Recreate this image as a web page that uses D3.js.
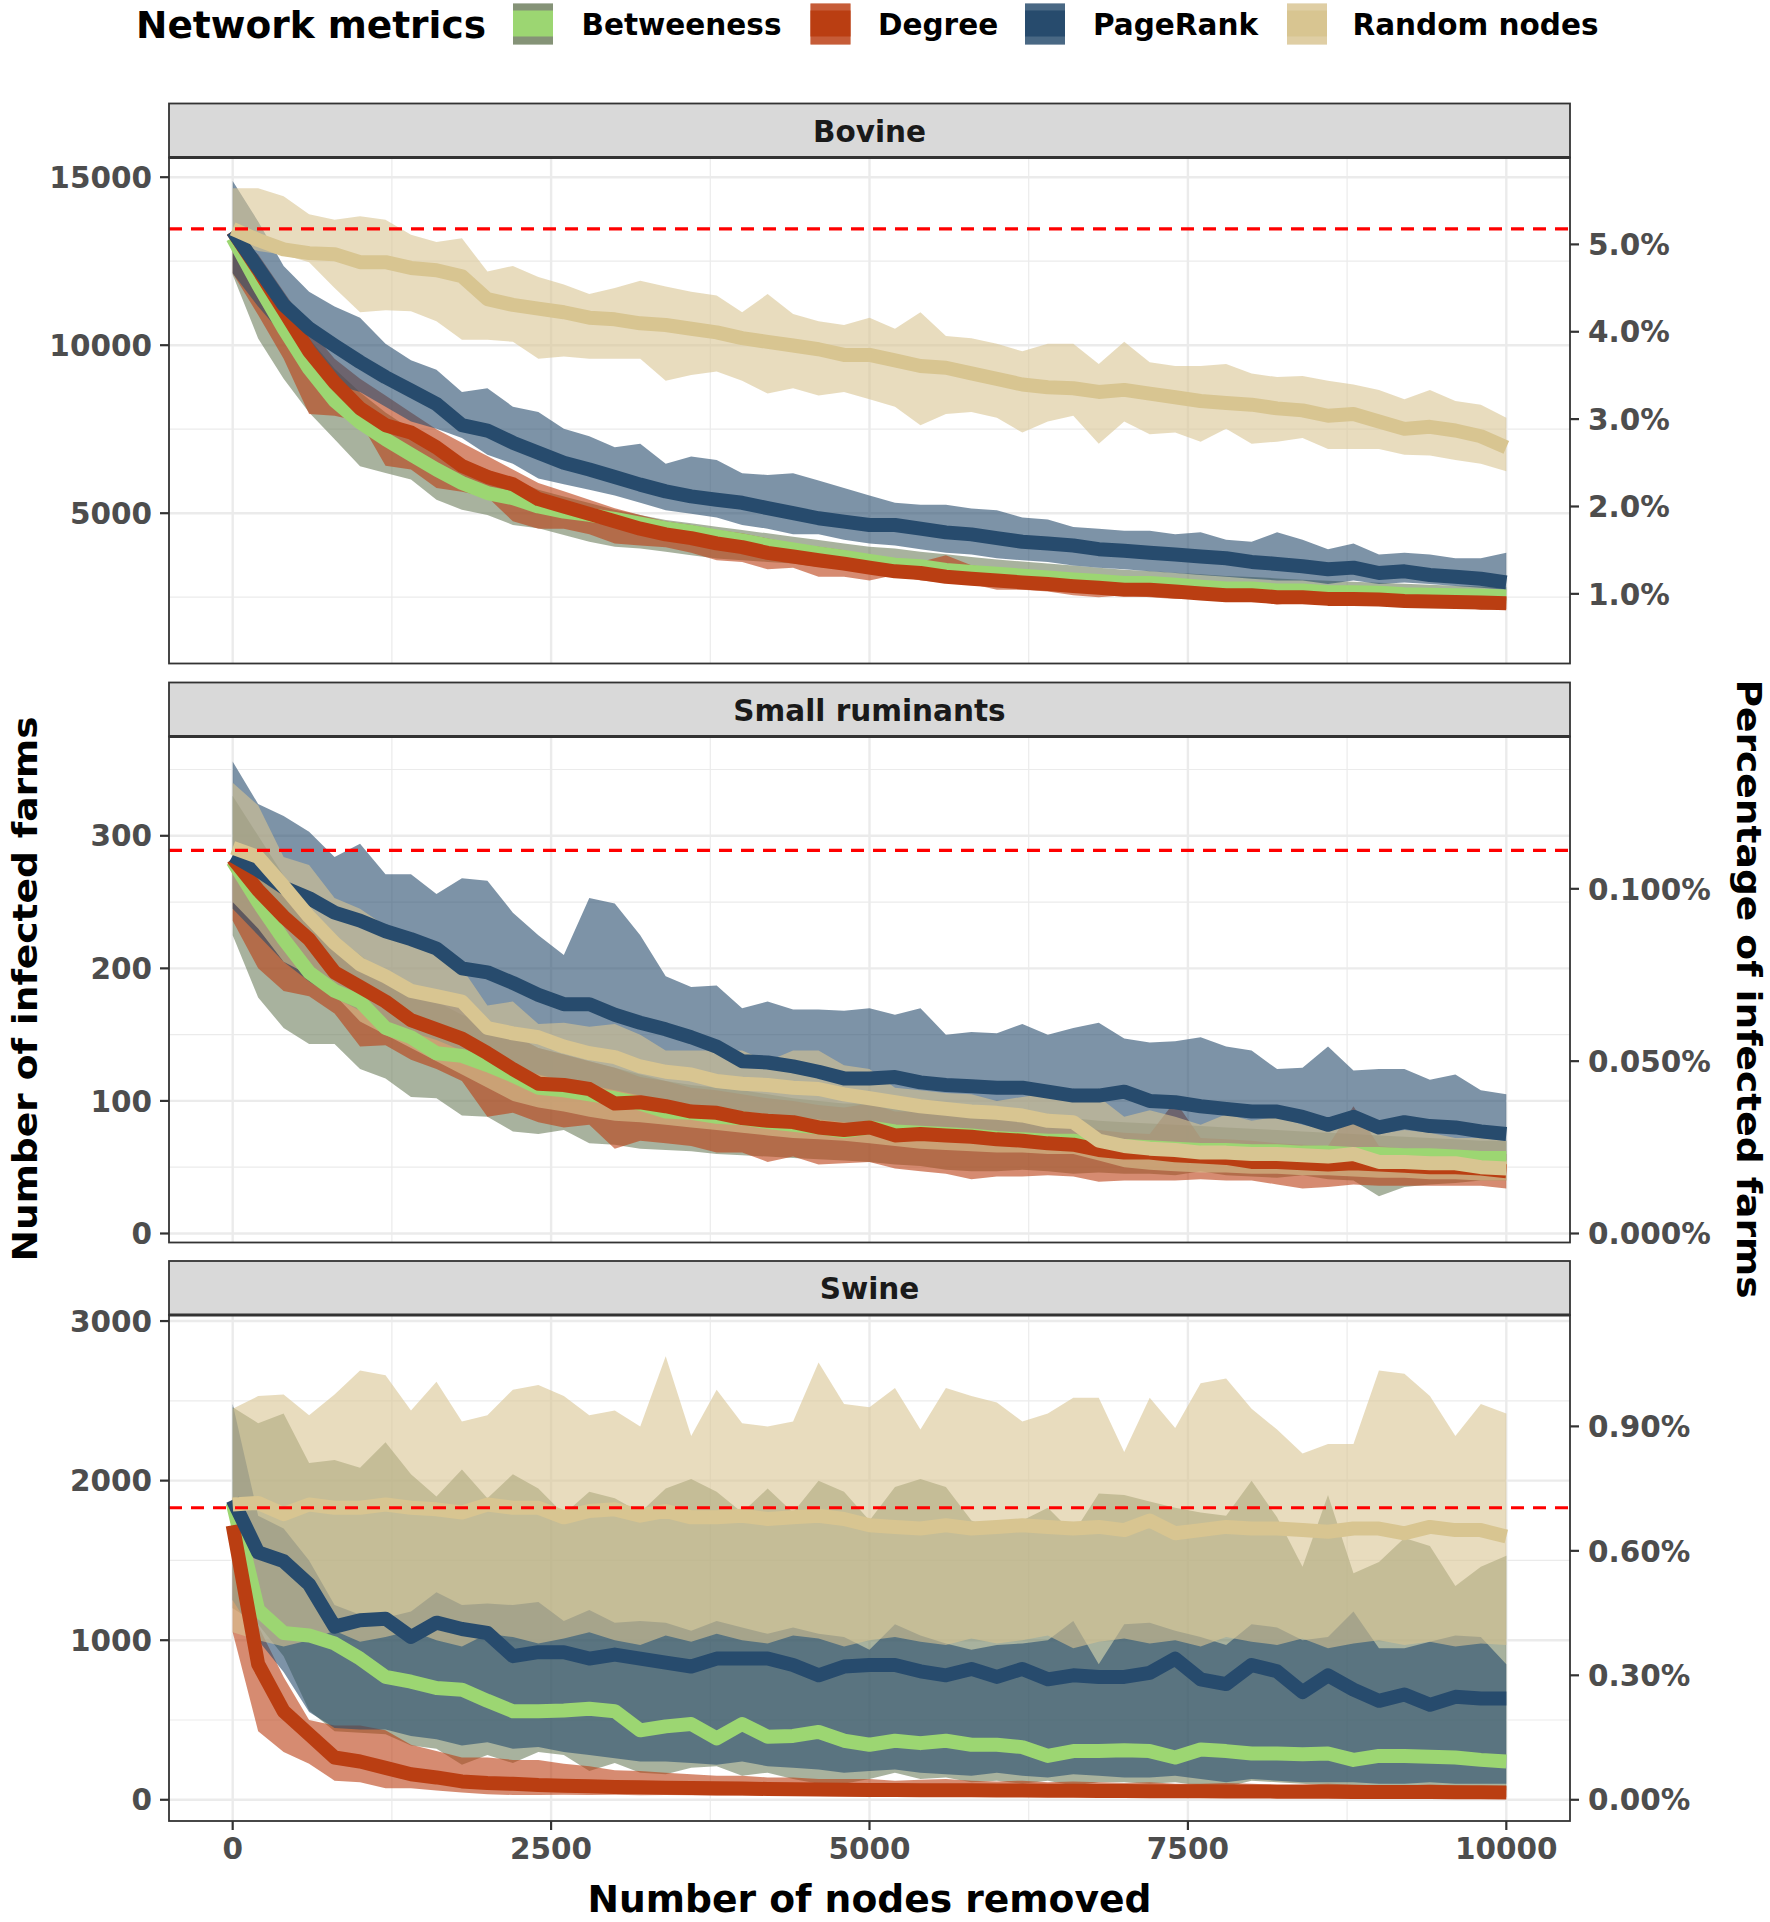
<!DOCTYPE html>
<html><head><meta charset="utf-8">
<script src="https://cdn.jsdelivr.net/npm/d3@7"></script>
<style>body{margin:0;background:#fff}svg{display:block}text{font-family:"DejaVu Sans",sans-serif;font-weight:bold}</style>
</head><body><svg id="c" width="1770" height="1922"></svg>
<script>
// ---------------- DATA ----------------
const nodesRemoved = [0,200,400,600,800,1000,1200,1400,1600,1800,2000,2200,2400,2600,2800,3000,3200,3400,3600,3800,4000,4200,4400,4600,4800,5000,5200,5400,5600,5800,6000,6200,6400,6600,6800,7000,7200,7400,7600,7800,8000,8200,8400,8600,8800,9000,9200,9400,9600,9800,10000];
const metrics = ["Betweeness","Degree","PageRank","Random nodes"];
const panelNames = ["Bovine","Small ruminants","Swine"];
const totalFarms = 260000;
const baselineInfected = [13460, 289, 1830];

// Bovine
const bovineBetweenessMean = [13200,11800,10500,9300,8350,7700,7200,6750,6300,5900, 5600,5450,5200,5050,4950,4830,4690,4550,4440,4310, 4190,4040,3920,3800,3700,3580,3470,3420,3310,3250, 3200,3140,3090,3030,2980,2920,2920,2870,2810,2760, 2760,2700,2700,2650,2650,2630,2590,2570,2560,2540, 2520];
const bovineBetweenessLow = [12100,10200,9000,8000,7200,6400,6200,6000,5400,5100, 4950,4650,4550,4350,4150,4000,3950,3850,3750,3650, 3600,3550,3500,3400,3350,3300,3250,3200,3150,3100, 3050,3000,2950,2900,2860,2820,2780,2740,2700,2670, 2640,2610,2580,2550,2520,2500,2480,2460,2440,2420, 2400];
const bovineBetweenessHigh = [13400,12400,11300,10200,9300,8600,8000,7500,7000,6600, 6300,6000,5700,5500,5300,5100,4950,4800,4700,4600, 4500,4400,4300,4200,4100,4000,3950,3850,3780,3700, 3620,3560,3500,3440,3380,3320,3280,3230,3180,3130, 3100,3060,3020,2990,2960,2930,2900,2870,2840,2820, 2800];
const bovineDegreeMean = [13400,12250,11040,9820,8890,8120,7620,7400,6960,6410, 6080,5860,5420,5200,4980,4760,4540,4370,4260,4100, 3990,3820,3710,3600,3500,3380,3270,3220,3110,3050, 3000,2940,2890,2830,2780,2720,2720,2670,2610,2560, 2560,2500,2500,2450,2450,2430,2390,2370,2360,2340, 2320];
const bovineDegreeLow = [12140,10900,9600,7950,7900,7730,6410,6300,5750,5640, 5480,4760,4540,4540,4370,4100,4040,3990,3820,3600, 3550,3330,3380,3110,3110,3000,3160,3000,2940,2890, 2720,2720,2670,2560,2500,2560,2500,2450,2450,2390, 2390,2280,2360,2340,2320,2320,2280,2250,2250,2120, 2140];
const bovineDegreeHigh = [13400,12700,11600,10500,9600,9000,8500,8000,7500,7100, 6700,6300,5900,5650,5400,5150,4950,4750,4650,4500, 4400,4250,4100,4000,3900,3750,3650,3550,3750,3450, 3350,3300,3200,3150,3050,3000,2980,2930,2880,2830, 2800,2750,2730,2700,2660,2620,2600,2570,2550,2520, 2500];
const bovinePageRankMean = [13400,12300,11200,10500,9990,9500,9050,8650,8250,7620, 7460,7100,6800,6500,6300,6080,5850,5650,5500,5400, 5310,5150,5000,4850,4750,4650,4650,4540,4430,4370, 4260,4150,4100,4040,3930,3880,3820,3770,3710,3660, 3550,3490,3420,3330,3380,3220,3270,3160,3110,3050, 2940];
const bovinePageRankLow = [12140,11150,10270,9380,8830,8610,8170,7730,7510,7240, 6740,6470,6030,5860,5700,5530,5310,5090,4980,4870, 4650,4540,4370,4370,4210,4100,4040,3930,3820,3770, 3660,3600,3550,3440,3380,3330,3270,3220,3160,3110, 3050,3000,3000,2890,3000,2890,2940,2890,2830,2780, 2720];
const bovinePageRankHigh = [14890,13680,12360,11590,11150,10820,10040,9550,9270,8610, 8720,8170,8010,7510,7290,6960,7070,6470,6690,6580, 6190,6140,6190,5970,5750,5530,5310,5250,5250,5140, 5090,4870,4810,4590,4540,4480,4480,4370,4430,4210, 4150,4430,4210,3930,4100,3770,3820,3770,3660,3660, 3820];
const bovineRandomMean = [13460,13130,12850,12740,12710,12470,12470,12300,12230,12050, 11370,11200,11090,10980,10820,10770,10650,10600,10490,10380, 10210,10100,9990,9880,9710,9710,9550,9380,9330,9160, 9000,8830,8750,8720,8610,8670,8560,8450,8340,8280, 8230,8120,8060,7900,7950,7730,7510,7570,7460,7290, 6960];
const bovineRandomLow = [13100,12800,12690,12470,11700,10980,11040,11010,10710,10160, 10160,10100,9600,9660,9600,9600,9600,8940,9110,9220, 8940,8560,8720,8500,8610,8390,8170,7620,7950,8010, 7840,7400,7730,7900,7070,7730,7350,7400,7130,7510, 7070,7130,7240,6910,6910,6910,6740,6720,6580,6470, 6250];
const bovineRandomHigh = [14670,14670,14430,13900,13730,13840,13730,13290,13070,13180, 12190,12360,12030,11810,11520,11700,11920,11750,11590,11480, 10980,11520,10930,10710,10600,10820,10490,10980,10270,10210, 10040,9820,10040,10040,9440,10100,9490,9380,9380,9440, 9160,9050,9080,8940,8830,8670,8390,8670,8340,8230, 7840];

// Small ruminants
const smallBetweenessMean = [281,250,222,197,183,175,155,148,136,134, 127,119,110,108,105,102,98,92,91,88, 87,84,82,80,77,80,77,76,75,74, 72,71,70,70,67,66,65,64,63,63, 62,62,61,61,60,60,59,59,58,57, 57];
const smallBetweenessLow = [225,178,155,143,143,124,117,103,102,89, 88,77,75,78,68,67,64,63,62,60, 59,58,57,56,55,54,52,51,48,47, 47,48,47,45,46,45,45,44,47,44, 43,42,44,41,40,28,35,37,38,40, 40];
const smallBetweenessHigh = [330,300,270,245,225,210,195,185,175,165, 158,150,140,135,130,125,120,115,112,110, 108,105,102,100,98,98,96,95,93,92, 90,89,88,87,85,84,83,82,81,80, 79,78,77,76,75,74,73,72,71,70, 70];
const smallDegreeMean = [283,259,239,222,197,186,175,161,154,147, 136,124,113,112,109,98,99,96,92,91, 87,85,84,80,78,80,74,75,74,73, 71,70,68,67,63,61,61,59,58,57, 54,54,53,52,53,52,51,50,50,49, 47];
const smallDegreeLow = [236,200,183,179,166,141,142,131,124,115, 88,91,84,80,82,64,70,68,66,61, 61,54,58,52,53,54,49,47,45,41, 43,43,44,43,39,40,40,40,41,40, 40,37,34,35,37,36,36,36,36,36, 34];
const smallDegreeHigh = [283,275,255,240,220,205,195,185,175,170, 160,150,140,135,130,125,118,115,110,108, 105,102,100,97,95,98,92,92,95,88, 86,85,84,82,78,76,75,100,72,71, 70,68,67,66,96,66,64,63,62,61, 60];
const smallPageRankMean = [285,274,261,253,242,236,228,222,215,200, 197,189,180,173,173,165,159,154,148,141, 130,129,126,122,117,117,118,114,112,111, 110,110,107,104,104,107,100,99,96,94, 92,92,88,82,88,80,84,81,80,77, 75];
const smallPageRankLow = [245,225,205,190,178,168,160,152,146,138, 132,126,120,115,112,108,104,100,97,95, 92,90,88,86,84,82,80,78,77,75, 74,73,72,70,69,68,67,66,65,64, 63,62,61,60,60,59,58,58,57,56, 55];
const smallPageRankHigh = [356,324,315,303,284,294,271,271,256,268, 266,242,225,210,253,249,225,194,186,187, 170,175,169,169,168,170,165,170,150,152, 151,158,150,155,159,147,144,145,148,141, 138,124,125,141,123,124,124,116,120,108, 105];
const smallRandomMean = [291,284,262,239,219,203,194,183,179,175, 155,151,148,141,136,133,126,122,120,115, 113,112,110,109,105,102,99,96,94,92, 91,89,85,84,70,66,64,63,61,61, 60,60,59,58,60,54,54,53,53,50, 49];
const smallRandomLow = [250,230,205,195,180,160,150,140,130,120, 110,100,95,92,88,85,84,82,80,78, 76,74,72,71,70,68,66,64,63,62, 61,61,60,60,55,50,48,47,46,46, 45,45,44,44,43,42,42,41,41,40, 40];
const smallRandomHigh = [340,323,284,278,253,245,232,222,210,200, 172,175,158,159,156,158,150,138,138,138, 138,130,138,138,127,124,110,108,106,105, 100,103,106,101,103,88,93,88,82,90, 85,88,82,78,88,75,78,76,72,72, 70];

// Swine
const swineBetweenessMean = [1860,1190,1045,1030,980,885,770,740,700,690, 620,555,555,560,570,555,435,460,475,385, 475,395,400,425,370,345,370,355,370,345, 345,330,275,305,305,310,305,265,315,305, 290,290,285,290,250,275,275,270,265,250, 240];
const swineBetweenessLow = [1200,1100,900,560,430,420,410,340,320,220, 280,230,300,280,180,230,170,160,200,210, 150,170,130,100,100,130,170,130,140,110, 120,100,120,90,110,110,100,110,90,80, 120,110,100,90,70,60,80,60,70,60, 60];
const swineBetweenessHigh = [2460,2360,2420,2110,2130,2080,2240,2040,1900,2070, 1890,2040,1950,1790,1930,1890,1800,1950,2010,1930, 1800,1950,1800,2000,1930,1750,1960,2010,1960,1750, 1690,1750,1830,1670,1920,1910,1870,1830,1800,1780, 2000,1770,1460,1910,1420,1490,1640,1590,1340,1460, 1530];
const swineDegreeMean = [1720,850,555,410,265,240,200,160,140,115, 105,100,92,88,85,80,78,76,74,72, 70,68,66,65,63,62,62,60,60,59, 58,58,57,56,55,55,54,53,53,52, 52,51,50,50,49,49,48,48,47,47, 46];
const swineDegreeLow = [1050,430,300,225,120,110,72,72,58,45, 35,30,30,32,30,32,28,30,28,25, 27,25,26,24,22,20,24,22,22,22, 22,20,21,20,20,20,20,19,19,19, 18,18,18,18,17,17,17,16,16,16, 16];
const swineDegreeHigh = [1720,1090,770,500,465,465,435,345,305,265, 265,250,250,225,210,185,180,170,160,150, 150,140,140,130,130,130,120,125,130,120, 115,120,110,115,110,105,110,100,100,105, 100,95,95,100,95,90,90,95,90,85, 85];
const swinePageRankMean = [1880,1550,1495,1350,1085,1125,1135,1020,1110,1070, 1045,900,925,925,885,910,885,860,835,885, 885,885,845,780,835,845,845,805,780,820, 770,820,755,780,770,770,795,885,755,725, 845,805,675,780,690,620,660,595,645,635, 635];
const swinePageRankLow = [1250,1000,800,550,450,440,440,400,380,340, 360,320,330,300,280,260,240,240,230,220, 240,210,200,190,170,180,190,170,160,150, 170,150,140,160,150,140,140,150,130,110, 130,120,110,110,110,100,100,110,100,100, 100];
const swinePageRankHigh = [2480,1780,1700,1500,1220,1160,1140,1180,1300,1220, 1230,1220,1240,1120,1190,1110,1120,1110,1060,1120, 1080,1040,1080,1040,1020,940,1100,1030,980,940, 970,980,1000,1120,850,1100,1110,1060,1020,970, 1100,1080,1000,1020,1180,950,950,990,1030,1020, 850];
const swineRandomMean = [1850,1860,1790,1850,1830,1830,1850,1830,1820,1800, 1850,1830,1830,1770,1810,1820,1780,1810,1770,1770, 1780,1760,1770,1780,1760,1720,1710,1700,1720,1700, 1710,1720,1710,1700,1710,1690,1750,1670,1690,1710, 1700,1700,1690,1680,1700,1700,1670,1710,1690,1690, 1650];
const swineRandomLow = [1050,1000,960,1000,1060,990,1020,1060,1000,960, 1040,1020,980,1010,1050,1000,970,1030,990,1040, 1000,980,1030,1010,960,1000,1020,990,970,1010, 980,1000,1030,950,990,1010,980,1000,960,1020, 990,970,1010,950,980,1000,970,990,960,980, 970];
const swineRandomHigh = [2450,2530,2540,2410,2540,2690,2660,2440,2620,2370, 2410,2570,2600,2530,2410,2440,2340,2780,2280,2570, 2360,2340,2370,2740,2480,2460,2580,2320,2580,2530, 2490,2370,2420,2520,2520,2180,2520,2330,2610,2640, 2450,2320,2170,2230,2230,2690,2670,2530,2280,2480, 2420];

// Axis ticks
const xTicks = [0,2500,5000,7500,10000];
const xMinor = [1250,3750,6250,8750];
const bovineTicks = [5000,10000,15000], bovineMinor = [2500,7500,12500], bovinePct = [1,2,3,4,5];
const smallTicks = [0,100,200,300], smallMinor = [50,150,250,350], smallPct = [0,0.05,0.1];
const swineTicks = [0,1000,2000,3000], swineMinor = [500,1500,2500], swinePct = [0,0.3,0.6,0.9];

// ---------------- STYLE ----------------
const lineColors = ["#9CD672","#BA3E12","#274B6D","#D8C591"];
const fillColors = ["#6E7F5D","#BA3E12","#274B6D","#D9C592"];
const fillOpacity = 0.6;

const panels = [
  {name:panelNames[0], domain:[527,15586], ticks:bovineTicks, minor:bovineMinor, pct:bovinePct, dec:1, base:baselineInfected[0],
   s:[[bovineBetweenessMean,bovineBetweenessLow,bovineBetweenessHigh],[bovineDegreeMean,bovineDegreeLow,bovineDegreeHigh],[bovinePageRankMean,bovinePageRankLow,bovinePageRankHigh],[bovineRandomMean,bovineRandomLow,bovineRandomHigh]]},
  {name:panelNames[1], domain:[-6.8,374.9], ticks:smallTicks, minor:smallMinor, pct:smallPct, dec:3, base:baselineInfected[1],
   s:[[smallBetweenessMean,smallBetweenessLow,smallBetweenessHigh],[smallDegreeMean,smallDegreeLow,smallDegreeHigh],[smallPageRankMean,smallPageRankLow,smallPageRankHigh],[smallRandomMean,smallRandomLow,smallRandomHigh]]},
  {name:panelNames[2], domain:[-133,3038], ticks:swineTicks, minor:swineMinor, pct:swinePct, dec:2, base:baselineInfected[2],
   s:[[swineBetweenessMean,swineBetweenessLow,swineBetweenessHigh],[swineDegreeMean,swineDegreeLow,swineDegreeHigh],[swinePageRankMean,swinePageRankLow,swinePageRankHigh],[swineRandomMean,swineRandomLow,swineRandomHigh]]}
];

const svg = d3.select("#c");
const plotL = 169, plotR = 1570;
const stripTops = [103.5, 682.5, 1261], stripH = 54, plotH = 506;
const x = d3.scaleLinear().domain([-500,10500]).range([plotL,plotR]);
const tickCol = "#4D4D4D", borderCol = "#333333", gridCol = "#EBEBEB";
const fs = 29.5;

let bad = [];
panels.forEach(p=>p.s.forEach((arr,i)=>arr.forEach((a,j)=>{ if(a.length!==nodesRemoved.length) bad.push(p.name+" "+metrics[i]+" "+j+" len "+a.length);})));
if(bad.length) svg.append("text").attr("x",200).attr("y",70).attr("fill","red").attr("font-size",14).text(bad.join(" | "));

panels.forEach((p,pi)=>{
  const top = stripTops[pi]+stripH, bot = top+plotH;
  const y = d3.scaleLinear().domain(p.domain).range([bot,top]);
  const g = svg.append("g");
  const cid = "clip"+pi;
  svg.append("clipPath").attr("id",cid).append("rect").attr("x",plotL).attr("y",top).attr("width",plotR-plotL).attr("height",plotH);
  // grid
  p.minor.forEach(v=>g.append("line").attr("x1",plotL).attr("x2",plotR).attr("y1",y(v)).attr("y2",y(v)).attr("stroke",gridCol).attr("stroke-width",1.2));
  xMinor.forEach(v=>g.append("line").attr("x1",x(v)).attr("x2",x(v)).attr("y1",top).attr("y2",bot).attr("stroke",gridCol).attr("stroke-width",1.2));
  p.ticks.forEach(v=>g.append("line").attr("x1",plotL).attr("x2",plotR).attr("y1",y(v)).attr("y2",y(v)).attr("stroke",gridCol).attr("stroke-width",2.4));
  xTicks.forEach(v=>g.append("line").attr("x1",x(v)).attr("x2",x(v)).attr("y1",top).attr("y2",bot).attr("stroke",gridCol).attr("stroke-width",2.4));
  const cg = g.append("g").attr("clip-path","url(#"+cid+")");
  // ribbons
  p.s.forEach((ser,i)=>{
    const data = nodesRemoved.map((n,k)=>({n, lo:ser[1][k], hi:ser[2][k]}));
    cg.append("path").datum(data)
      .attr("d", d3.area().x(d=>x(d.n)).y0(d=>y(d.lo)).y1(d=>y(d.hi)))
      .attr("fill",fillColors[i]).attr("fill-opacity",fillOpacity);
  });
  // lines
  p.s.forEach((ser,i)=>{
    const data = nodesRemoved.map((n,k)=>({n, v:ser[0][k]}));
    cg.append("path").datum(data)
      .attr("d", d3.line().x(d=>x(d.n)).y(d=>y(d.v)))
      .attr("fill","none").attr("stroke",lineColors[i]).attr("stroke-width",14)
      .attr("stroke-linejoin","round").attr("stroke-linecap","butt");
  });
  // baseline dashed
  cg.append("line").attr("x1",plotL).attr("x2",plotR).attr("y1",y(p.base)).attr("y2",y(p.base))
    .attr("stroke","#FF0000").attr("stroke-width",3.2).attr("stroke-dasharray","13,9");
  // border
  g.append("rect").attr("x",plotL).attr("y",top).attr("width",plotR-plotL).attr("height",plotH)
    .attr("fill","none").attr("stroke",borderCol).attr("stroke-width",1.8);
  // strip
  g.append("rect").attr("x",plotL).attr("y",stripTops[pi]).attr("width",plotR-plotL).attr("height",stripH)
    .attr("fill","#D9D9D9").attr("stroke",borderCol).attr("stroke-width",1.8);
  g.append("line").attr("x1",plotL).attr("x2",plotR).attr("y1",top).attr("y2",top).attr("stroke",borderCol).attr("stroke-width",3);
  g.append("text").attr("x",(plotL+plotR)/2).attr("y",stripTops[pi]+38).attr("text-anchor","middle")
    .attr("font-size",fs).attr("fill","#1A1A1A").text(p.name);
  // left axis
  p.ticks.forEach(v=>{
    g.append("line").attr("x1",plotL-9).attr("x2",plotL).attr("y1",y(v)).attr("y2",y(v)).attr("stroke",borderCol).attr("stroke-width",2.2);
    g.append("text").attr("x",plotL-17).attr("y",y(v)+10.7).attr("text-anchor","end").attr("font-size",fs).attr("fill",tickCol).text(String(v));
  });
  // right axis
  p.pct.forEach(v=>{
    const yy = y(v/100*totalFarms);
    g.append("line").attr("x1",plotR).attr("x2",plotR+9).attr("y1",yy).attr("y2",yy).attr("stroke",borderCol).attr("stroke-width",2.2);
    g.append("text").attr("x",plotR+18).attr("y",yy+10.7).attr("text-anchor","start").attr("font-size",fs).attr("fill",tickCol).text(v.toFixed(p.dec)+"%");
  });
  if(pi===2){
    xTicks.forEach(v=>{
      g.append("line").attr("x1",x(v)).attr("x2",x(v)).attr("y1",bot).attr("y2",bot+9).attr("stroke",borderCol).attr("stroke-width",2.2);
      g.append("text").attr("x",x(v)).attr("y",bot+38).attr("text-anchor","middle").attr("font-size",fs).attr("fill",tickCol).text(String(v));
    });
  }
});

// axis titles
svg.append("text").attr("x",(plotL+plotR)/2).attr("y",1912).attr("text-anchor","middle").attr("font-size",37)
  .attr("textLength",564).attr("lengthAdjust","spacingAndGlyphs").attr("fill","#000").text("Number of nodes removed");
svg.append("text").attr("transform","translate(37,989) rotate(-90)").attr("text-anchor","middle").attr("font-size",34)
  .attr("textLength",545).attr("lengthAdjust","spacingAndGlyphs").attr("fill","#000").text("Number of infected farms");
svg.append("text").attr("transform","translate(1737,989) rotate(90)").attr("text-anchor","middle").attr("font-size",33)
  .attr("textLength",619).attr("lengthAdjust","spacingAndGlyphs").attr("fill","#000").text("Percentage of infected farms");

// legend
const lg = svg.append("g");
lg.append("text").attr("x",136).attr("y",37.5).attr("font-size",37.5).attr("fill","#000").text("Network metrics");
const keyX = [513, 810.5, 1025, 1287], labX = [581.5, 878, 1093, 1352.5];
metrics.forEach((m,i)=>{
  const kx = keyX[i], kw = 40;
  lg.append("rect").attr("x",kx).attr("y",3.5).attr("width",kw).attr("height",41).attr("fill","#fff");
  lg.append("rect").attr("x",kx).attr("y",3.5).attr("width",kw).attr("height",41).attr("fill",fillColors[i]).attr("fill-opacity",fillOpacity);
  lg.append("rect").attr("x",kx).attr("y",3.5).attr("width",kw).attr("height",41).attr("fill",fillColors[i]).attr("fill-opacity",fillOpacity);
  lg.append("rect").attr("x",kx).attr("y",10.5).attr("width",kw).attr("height",26).attr("fill",lineColors[i]);
  lg.append("text").attr("x",labX[i]).attr("y",34.5).attr("font-size",fs).attr("fill","#000").text(m);
});
</script></body></html>
